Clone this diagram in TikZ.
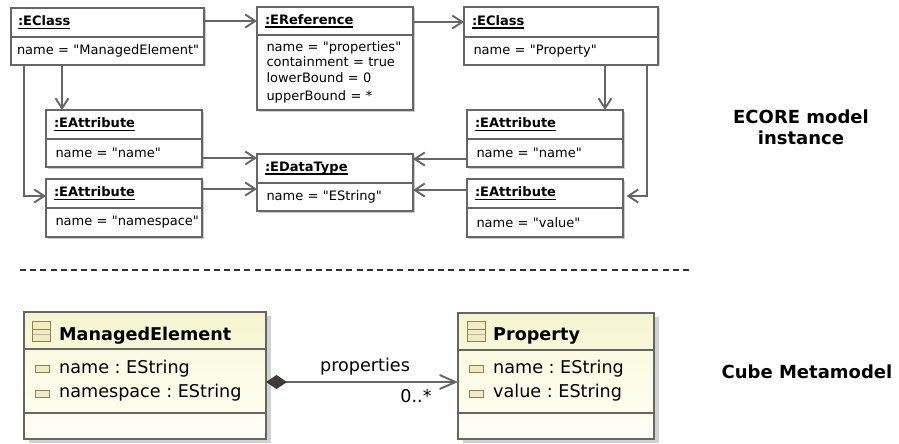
\documentclass[tikz,border=0pt]{standalone}
\usepackage{fontspec}
\setmainfont{DejaVu Sans}[Ligatures=TeXOff]
\usepackage{tikz}
\usetikzlibrary{positioning, arrows.meta, shapes, shadows, calc}
\definecolor{linegray}{HTML}{666666}
\definecolor{iconline}{HTML}{8F8154}
\definecolor{iconfill}{HTML}{EFEBC4}
\definecolor{diamondfill}{HTML}{423A3A}
\definecolor{yellowA}{HTML}{F5F5CF}
\definecolor{yellowB}{HTML}{F8F8DA}
\definecolor{yellowC}{HTML}{FBFBE2}
\definecolor{yellowD}{HTML}{FDFDEE}
\definecolor{yellowE}{HTML}{FFFFFA}
\newcommand{\objname}[1]{\setbox0\hbox{\textbf{#1}}\rlap{\rule[-3.8pt]{\wd0}{1.7pt}}\box0}
\tikzset{
  objbase/.style={draw=linegray, line width=2pt, fill=white, outer sep=0pt, inner sep=0pt,
    minimum width=156pt, text width=156pt, align=left, font=\fontsize{13}{15.5}\selectfont,
    drop shadow={shadow xshift=1.5pt, shadow yshift=-1.5pt, fill=black!20, opacity=1}},
  objtitle/.style={objbase, minimum height=29pt, anchor=north west, execute at begin node={\leftskip=8pt\relax}},
  objbody/.style={objbase, minimum height=28pt, execute at begin node={\leftskip=9.5pt\relax}},
  classbase/.style={draw=linegray, line width=2pt, outer sep=0pt, inner sep=0pt,
    drop shadow={shadow xshift=5pt, shadow yshift=-3.5pt, fill=black!18, opacity=1}},
  classtext/.style={inner sep=0pt, font=\fontsize{17.6}{20}\selectfont\frenchspacing},
  classicon/.style={draw=iconline, line width=1pt, fill=iconfill, minimum width=18pt, minimum height=20pt, inner sep=0pt, outer sep=0pt,
    path picture={\draw[iconline, line width=.7pt] ([yshift=2pt]path picture bounding box.west) -- ([yshift=2pt]path picture bounding box.east);
      \draw[iconline!60, line width=.7pt] ([yshift=-3pt]path picture bounding box.west) -- ([yshift=-3pt]path picture bounding box.east);}},
  attricon/.style={draw=iconline, line width=1pt, fill=iconfill, minimum width=14pt, minimum height=7pt, inner sep=0pt, outer sep=0pt},
  link/.style={draw=linegray, line width=1.9pt, -{Straight Barb[length=10pt, width=13pt, line width=1.9pt]}},
  caption/.style={font=\fontsize{18}{21}\selectfont\bfseries, align=center},
}
\begin{document}
\begin{tikzpicture}[x=1pt, y=-1pt]
  \useasboundingbox (0,0) rectangle (899,444);

  % ECORE model instance
  \node[objtitle, minimum width=193pt, text width=193pt, execute at begin node={\leftskip=7pt\relax}] (classMTitle) at (11,8) {\objname{:EClass}};
  \node[objbody, minimum width=193pt, text width=193pt, execute at begin node={\leftskip=6pt\relax}, below=0pt of classMTitle] (classMBody) {name = "ManagedElement"};

  \node[objtitle, minimum height=28pt] (refTitle) at (257,7) {\objname{:EReference}};
  \node[objbody, minimum height=75pt, below=0pt of refTitle] (refBody) {name = "properties"\\containment = true\\lowerBound = 0\\[3pt]upperBound = *};

  \node[objtitle, minimum width=194pt, minimum height=30pt, text width=194pt] (classPTitle) at (464,7) {\objname{:EClass}};
  \node[objbody, minimum width=194pt, text width=194pt, below=0pt of classPTitle] (classPBody) {name = "Property"};

  \node[objtitle] (attrNameTitle) at (46,110) {\objname{:EAttribute}};
  \node[objbody, below=0pt of attrNameTitle] (attrNameBody) {name = "name"};

  \node[objtitle] (attrSpaceTitle) at (46,179) {\objname{:EAttribute}};
  \node[objbody, minimum height=29pt, below=0pt of attrSpaceTitle] (attrSpaceBody) {name = "namespace"};

  \node[objtitle] (typeTitle) at (257,154) {\objname{:EDataType}};
  \node[objbody, below=0pt of typeTitle] (typeBody) {name = "EString"};

  \node[objtitle] (attrPropTitle) at (467,110) {\objname{:EAttribute}};
  \node[objbody, below=0pt of attrPropTitle] (attrPropBody) {name = "name"};

  \node[objtitle] (attrValTitle) at (467,179) {\objname{:EAttribute}};
  \node[objbody, minimum height=29pt, below=0pt of attrValTitle] (attrValBody) {name = "value"};

  % Arrows of the instance
  \draw[link] (refTitle.west -| classMTitle.east) -- (refTitle.west);
  \draw[link] (classPTitle.west -| refTitle.east) -- (classPTitle.west);
  \draw[link] ([xshift=51pt]classMBody.south west) -- ([xshift=16pt]attrNameTitle.north west);
  \draw[link] ([xshift=13pt]classMBody.south west) |- ([yshift=-2.5pt]attrSpaceTitle.west);
  \draw[link] ([xshift=-53pt]classPBody.south east) -- ([xshift=-18pt]attrPropTitle.north east);
  \draw[link] ([xshift=-11pt]classPBody.south east) |- ([yshift=-2.5pt,xshift=3.5pt]attrValTitle.east);
  \draw[link] ([yshift=-5pt]attrNameBody.east) -- ([yshift=-5pt]attrNameBody.east -| typeTitle.west);
  \draw[link] ([yshift=4.5pt]attrSpaceTitle.east) -- ([yshift=4.5pt]attrSpaceTitle.east -| typeTitle.west);
  \draw[link] ([yshift=-6pt]attrPropBody.west) -- ([yshift=-6pt]attrPropBody.west -| typeTitle.east);
  \draw[link] ([yshift=3.5pt]attrValTitle.west) -- ([yshift=3.5pt]attrValTitle.west -| typeTitle.east);

  \node[caption] (captionInstance) at (801,127.5) {ECORE model\\instance};

  % Separator
  \coordinate (sepLeft) at (20,270);
  \coordinate (sepRight) at (690,270);
  \draw[black!80, line width=1.4pt, dash pattern=on 6pt off 4.2pt] (sepLeft) -- (sepRight);

  % Cube metamodel
  \node[classbase, anchor=north west, minimum width=242pt, minimum height=37pt, top color=yellowA, bottom color=yellowB] (elemTitle) at (24,312) {};
  \node[classbase, minimum width=242pt, minimum height=64pt, top color=yellowC, bottom color=yellowD, below=0pt of elemTitle] (elemAttrs) {};
  \node[classbase, minimum width=242pt, minimum height=26pt, top color=yellowD, bottom color=yellowE, below=0pt of elemAttrs] (elemOps) {};

  \node[classbase, anchor=north west, minimum width=196pt, minimum height=37pt, top color=yellowA, bottom color=yellowB] (propTitle) at (458,313) {};
  \node[classbase, minimum width=196pt, minimum height=63pt, top color=yellowC, bottom color=yellowD, below=0pt of propTitle] (propAttrs) {};
  \node[classbase, minimum width=196pt, minimum height=26pt, top color=yellowD, bottom color=yellowE, below=0pt of propAttrs] (propOps) {};

  % Icons and their texts
  \node[classicon] (elemIcon) at (41.5,331) {};
  \node[classtext, right=8.5pt of elemIcon, yshift=-5pt] (elemName) {\textbf{ManagedElement}};
  \node[attricon] (elemNameIcon) at (42.5,369) {};
  \node[classtext, right=9.5pt of elemNameIcon] (elemNameText) {name : EString};
  \node[attricon] (elemSpaceIcon) at (42.5,393.5) {};
  \node[classtext, right=9.5pt of elemSpaceIcon, yshift=.5pt] (elemSpaceText) {namespace : EString};
  \node[classicon] (propIcon) at (476,331) {};
  \node[classtext, right=8pt of propIcon, yshift=-5pt] (propName) {\textbf{Property}};
  \node[attricon] (propNameIcon) at (476.5,369) {};
  \node[classtext, right=9.5pt of propNameIcon] (propNameText) {name : EString};
  \node[attricon] (propValueIcon) at (476.5,393.5) {};
  \node[classtext, right=9.5pt of propValueIcon, yshift=1pt] (propValueText) {value : EString};

  % Composition
  \coordinate (compStart) at (elemAttrs.east |- 0,382);
  \draw[link, {Diamond[length=21pt, width=14pt, fill=diamondfill, color=diamondfill]}-{Straight Barb[length=16pt, width=14pt, line width=1.9pt]}] (compStart) -- (compStart -| propAttrs.west);
  \node[classtext] (compLabel) at (365,367) {properties};
  \node[classtext] (compMult) at (416,396) {0..*};

  \node[caption] (captionMeta) at (807,372) {Cube Metamodel};
\end{tikzpicture}
\end{document}
